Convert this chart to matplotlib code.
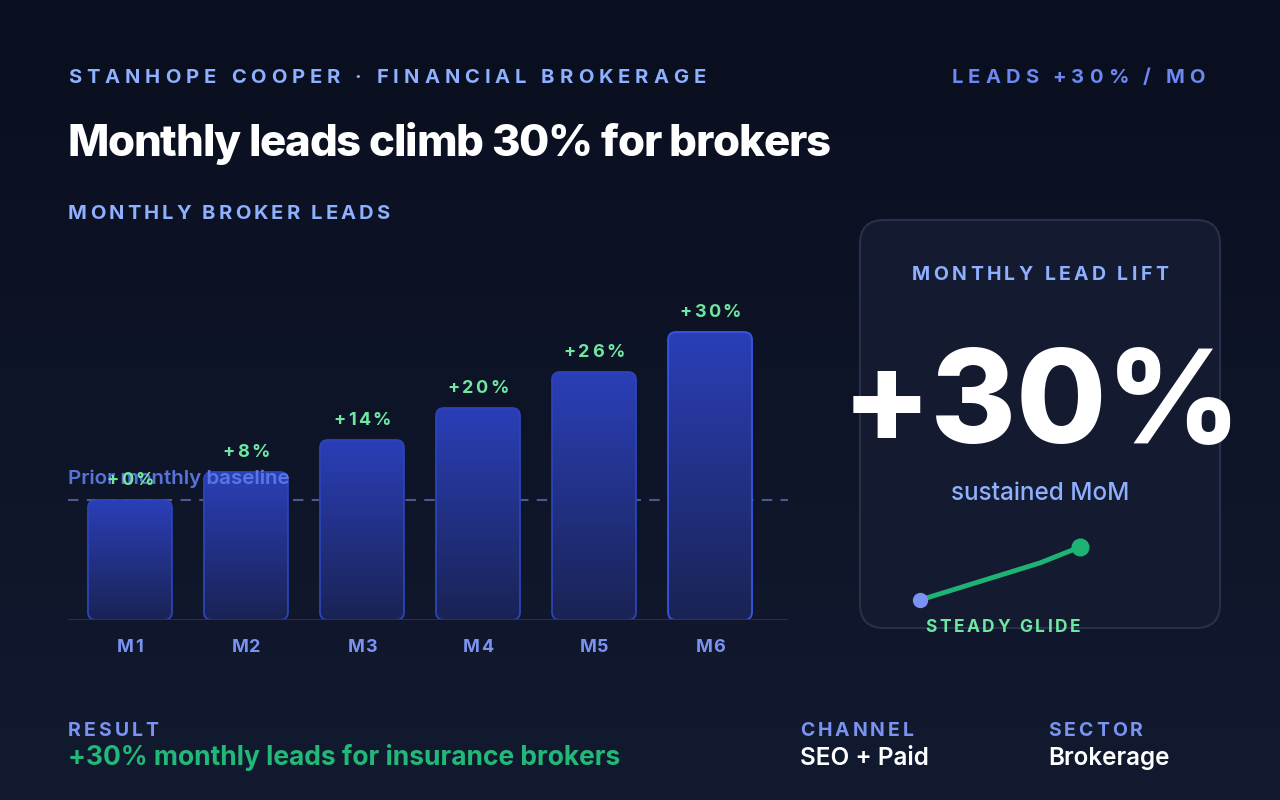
import numpy as np
import matplotlib
matplotlib.use("Agg")
import matplotlib.pyplot as plt
from matplotlib.patches import FancyBboxPatch
from matplotlib.colors import LinearSegmentedColormap

plt.rcParams["font.family"] = ["Inter", "DejaVu Sans"]

# data
months = ["M1", "M2", "M3", "M4", "M5", "M6"]
leads = [120, 148, 180, 212, 248, 288]          # bar heights (lead index)
lift_labels = ["+0%", "+8%", "+14%", "+20%", "+26%", "+30%"]
spark_x = [0, 0.75, 1.0]
spark_y = [0, 0.70, 1.0]

W, H = 1280, 800
fig = plt.figure(figsize=(12.8, 8), dpi=100)
renderer = fig.canvas.get_renderer()

# background pixel axes (y down)
bg = fig.add_axes([0, 0, 1, 1], zorder=0)
bg.set_xlim(0, W)
bg.set_ylim(H, 0)
bg.axis("off")
grad = np.linspace(0, 1, 256).reshape(-1, 1)
bg_cmap = LinearSegmentedColormap.from_list("bg", ["#0a0f1f", "#121a30"])
bg.imshow(grad, cmap=bg_cmap, extent=(0, W, H, 0), aspect="auto", zorder=0)

# text overlay, same pixel coordinates, drawn on top of everything
ov = fig.add_axes([0, 0, 1, 1], zorder=10)
ov.set_xlim(0, W)
ov.set_ylim(H, 0)
ov.axis("off")
ov.patch.set_alpha(0)


def text_w(s, **kw):
    t = ov.text(0, 0, s, **kw)
    w = t.get_window_extent(renderer).width
    t.remove()
    return w


def tracked(x, y, s, track, ha="left", **kw):
    base = text_w("HH", **kw)
    widths = [text_w("H" + ch + "H", **kw) - base for ch in s]
    total = sum(widths) + track * (len(s) - 1)
    if ha == "center":
        x = x - total / 2
    elif ha == "right":
        x = x - total
    for ch, w in zip(s, widths):
        ov.text(x, y, ch, ha="left", va="baseline", **kw)
        x += w + track


LABEL = "#8fb0ff"
LABEL2 = "#7b93f0"
GREEN_L = "#6ee7a0"
GREEN = "#1db374"

# header
tracked(68, 83, "STANHOPE COOPER · FINANCIAL BROKERAGE", 5.0,
        fontsize=14.5, fontweight="bold", color=LABEL)
tracked(1205, 83, "LEADS +30% / MO", 5.0, ha="right",
        fontsize=14.5, fontweight="bold", color="#6d88f2")
tracked(67, 156, "Monthly leads climb 30% for brokers", -1.1,
        fontsize=31.5, fontweight=800, color="white")
tracked(68, 219, "MONTHLY BROKER LEADS", 3.1,
        fontsize=14.5, fontweight="bold", color=LABEL)

# bar chart axes
ax = fig.add_axes([68 / W, 180 / H, 720 / W, 320 / H], zorder=5)
ax.set_xlim(-0.534, 5.672)
ax.set_ylim(0, 320)
ax.axis("off")
ax.patch.set_alpha(0)

bar_w = 0.724
px_per_x = 116.0
r = 8
bar_cmap = LinearSegmentedColormap.from_list("bar", ["#1a2354", "#2a3fb8"])
for i, h in enumerate(leads):
    x0 = i - bar_w / 2
    box = FancyBboxPatch((x0, 0), bar_w, h,
                         boxstyle=f"round,pad=0,rounding_size={r / px_per_x}",
                         mutation_aspect=px_per_x, facecolor="none",
                         edgecolor="#3a56e0" if i == len(leads) - 1 else "#2c44b8",
                         lw=1.3, zorder=3)
    ax.add_patch(box)
    g = np.linspace(0, 1, 256).reshape(-1, 1)
    im = ax.imshow(g, cmap=bar_cmap, origin="lower",
                   extent=(x0, x0 + bar_w, 0, h), aspect="auto", zorder=2,
                   vmin=0, vmax=1)
    im.set_clip_path(box)

ax.set_xlim(-0.534, 5.672)
ax.set_ylim(0, 320)
ax.axhline(0, color="#2a3350", lw=2, zorder=4)
ax.axhline(leads[0], color="#4b5a8e", lw=1.5, ls=(0, (5, 4)), zorder=1)


def to_px(xd, yd):
    d = ax.transData.transform((xd, yd))
    return ov.transData.inverted().transform(d)


ov.text(68, 484, "Prior monthly baseline", fontsize=14.8, fontweight="semibold",
        color="#5f7ce8", va="baseline", alpha=0.92)

for i, (h, lab, m) in enumerate(zip(leads, lift_labels, months)):
    px, py = to_px(i, h)
    tracked(px, py - 15, lab, 2.2, ha="center", fontsize=13,
            fontweight="bold", color=GREEN_L)
    px, py = to_px(i, 0)
    tracked(px, py + 32, m, 0.8, ha="center", fontsize=13,
            fontweight="bold", color=LABEL2)

# right panel
panel = FancyBboxPatch((860, 220), 360, 408,
                       boxstyle="round,pad=0,rounding_size=24",
                       facecolor="#141a30", edgecolor="#28304a", lw=1.5, zorder=1)
bg.add_patch(panel)
tracked(1040, 280, "MONTHLY LEAD LIFT", 3.4, ha="center",
        fontsize=14, fontweight="bold", color=LABEL)
ov.text(1042, 443, "+30%", fontsize=94, fontweight=800, color="white",
        ha="center", va="baseline")
ov.text(1040, 500, "sustained MoM", fontsize=17.5, fontweight="medium",
        color=LABEL, ha="center", va="baseline")

sp = fig.add_axes([920 / W, (H - 600) / H, 160 / W, 53 / H], zorder=6)
sp.set_xlim(0, 1)
sp.set_ylim(0, 1)
sp.axis("off")
sp.plot(spark_x, spark_y, color=GREEN, lw=3.5, solid_capstyle="round", clip_on=False)
sp.plot(spark_x[0], spark_y[0], "o", color="#7b93f0", ms=10, clip_on=False)
sp.plot(spark_x[-1], spark_y[-1], "o", color=GREEN, ms=12, clip_on=False)
tracked(1003, 632, "STEADY GLIDE", 2.6, ha="center",
        fontsize=12.5, fontweight="bold", color=GREEN_L)

# footer
tracked(68, 736, "RESULT", 3.0, fontsize=14, fontweight="bold", color=LABEL2)
ov.text(68, 765, "+30% monthly leads for insurance brokers", fontsize=19,
        fontweight="bold", color="#22b877", va="baseline")
tracked(800, 736, "CHANNEL", 3.0, fontsize=14, fontweight="bold", color=LABEL2)
ov.text(800, 765, "SEO + Paid", fontsize=17.5, fontweight="semibold",
        color="white", va="baseline")
tracked(1048, 736, "SECTOR", 3.0, fontsize=14, fontweight="bold", color=LABEL2)
ov.text(1048, 765, "Brokerage", fontsize=17.5, fontweight="semibold",
        color="white", va="baseline")

fig.savefig("out.png", dpi=100)
